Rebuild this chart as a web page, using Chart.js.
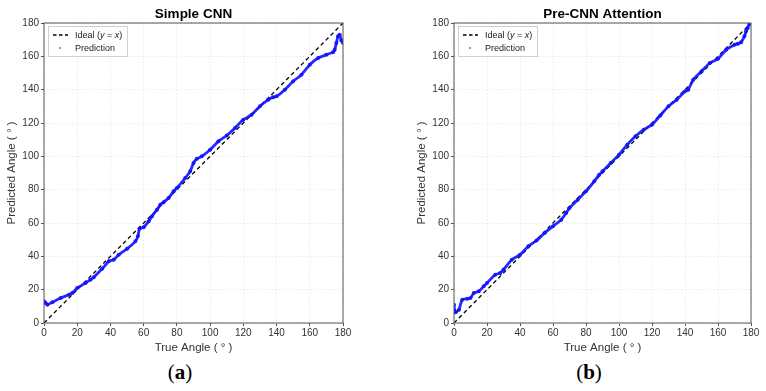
<!DOCTYPE html>
<html>
<head>
<meta charset="utf-8">
<script src="https://cdn.jsdelivr.net/npm/chart.js@4.4.0/dist/chart.umd.min.js"></script>
<style>
  body { margin: 0; background: #fff; width: 766px; height: 391px; position: relative; overflow: hidden; }
  .box { position: absolute; top: 0; height: 355px; }
  .tag { position: absolute; top: 360px; font-family: "Liberation Serif", serif; font-size: 21px; color: #000; transform: translateX(-50%); }
</style>
</head>
<body>
<div class="box" style="left:0;width:383px"><canvas id="chartA"></canvas></div>
<div class="box" style="left:410px;width:356px"><canvas id="chartB"></canvas></div>
<div class="tag" style="left:180px">(<b>a</b>)</div>
<div class="tag" style="left:589px">(<b>b</b>)</div>
<script>
// values (true angle -> predicted angle)
var simpleX = [0, 1, 2, 5, 10, 15, 17, 20, 25, 28, 30, 35, 39, 42, 45, 50, 55, 56.5, 57.5, 60, 63, 65, 68, 70, 72, 75, 78, 80, 85, 88, 90, 92, 95, 100, 105, 110, 115, 120, 125, 130, 135, 138, 140, 145, 150, 155, 160, 165, 170, 174, 175, 176, 177, 178, 179, 180];
var simpleY = [13, 12, 11, 12.5, 15, 17, 18, 21, 24, 26, 27.5, 32.5, 37, 38, 41, 44.5, 49, 52, 56.5, 57.5, 61, 64, 68, 71, 72.5, 75, 79, 81, 87, 91, 96, 98.5, 100, 104, 109, 112.5, 117, 122, 125, 130, 134, 135.5, 136, 140, 145, 149, 155, 159, 161, 162.5, 164, 168, 172, 173, 169.5, 168];

var attnX = [0, 0.5, 1, 3, 5, 8, 10, 12, 15, 18, 20, 25, 28, 30, 35, 40, 45, 50, 55, 60, 65, 68, 70, 75, 80, 85, 88, 90, 95, 100, 105, 110, 115, 120, 125, 130, 135, 140, 142, 145, 150, 155, 160, 165, 170, 172, 174, 176, 177, 178, 179];
var attnY = [11, 7, 6.5, 8, 14, 14.5, 15, 18, 19, 22, 24, 29, 30, 32, 38, 41, 46, 49.5, 54, 58, 62, 66, 69, 74, 79, 85, 89, 91, 96, 101, 107, 112, 116, 119, 124.5, 130, 134, 139, 140, 146, 151, 156, 158.5, 164, 167, 167.5, 168.5, 172, 175, 177, 179.5];

var ideal = [{ x: 0, y: 0 }, { x: 180, y: 180 }];
var ticks = [0, 20, 40, 60, 80, 100, 120, 140, 160, 180];
var FONT = "'Liberation Sans', Arial, sans-serif";

function pts(xs, ys) {
  return xs.map(function (x, i) { return { x: x, y: ys[i] }; });
}

// frame, title and legend drawn over the plot like the original
var decor = {
  id: "decor",
  afterDraw: function (chart, args, opts) {
    var ctx = chart.ctx, a = chart.chartArea;
    ctx.save();
    ctx.strokeStyle = "#555";
    ctx.lineWidth = 1;
    ctx.strokeRect(a.left, a.top, a.right - a.left, a.bottom - a.top);

    ctx.fillStyle = "#000";
    ctx.font = "bold 13.5px " + FONT;
    ctx.textAlign = "center";
    ctx.textBaseline = "middle";
    ctx.fillText(opts.title, (a.left + a.right) / 2, 14);

    var lx = a.left + 4, ly = a.top + 3;
    ctx.fillStyle = "rgba(255,255,255,0.85)";
    ctx.strokeStyle = "#d0d0d0";
    ctx.fillRect(lx, ly, 79, 30);
    ctx.strokeRect(lx + 0.5, ly + 0.5, 79, 30);

    ctx.strokeStyle = "#000";
    ctx.lineWidth = 1.3;
    ctx.setLineDash([3.5, 2.5]);
    ctx.beginPath();
    ctx.moveTo(lx + 5, ly + 9);
    ctx.lineTo(lx + 20, ly + 9);
    ctx.stroke();
    ctx.setLineDash([]);

    ctx.fillStyle = "rgba(40,40,255,0.8)";
    ctx.beginPath();
    ctx.arc(lx + 12, ly + 22, 0.9, 0, Math.PI * 2);
    ctx.fill();

    ctx.fillStyle = "#222";
    ctx.textAlign = "left";
    var tx = lx + 27;
    var parts = [["Ideal (", ""], ["y", "italic "], [" = ", ""], ["x", "italic "], [")", ""]];
    parts.forEach(function (p) {
      ctx.font = p[1] + "9px " + FONT;
      ctx.fillText(p[0], tx, ly + 9.5);
      tx += ctx.measureText(p[0]).width;
    });
    ctx.font = "9px " + FONT;
    ctx.fillText("Prediction", lx + 27, ly + 22.5);
    ctx.restore();
  }
};

function makeChart(id, title, xs, ys, rightPad) {
  var el = document.getElementById(id);
  return new Chart(el, {
    type: "scatter",
    data: {
      datasets: [
        {
          type: "line",
          label: "Ideal (y = x)",
          data: ideal,
          borderColor: "#000",
          borderWidth: 1.3,
          borderDash: [4, 3],
          pointRadius: 0,
          order: 2
        },
        {
          label: "Prediction",
          data: pts(xs, ys),
          showLine: true,
          borderColor: "rgba(15,15,255,0.9)",
          backgroundColor: "rgba(15,15,255,0.9)",
          borderWidth: 2.8,
          pointRadius: 0.6,
          tension: 0.2,
          order: 1
        }
      ]
    },
    options: {
      responsive: true,
      maintainAspectRatio: false,
      animation: false,
      layout: { padding: { top: 23, right: rightPad, left: 0, bottom: 0 } },
      plugins: {
        legend: { display: false },
        tooltip: { enabled: false },
        decor: { title: title }
      },
      scales: {
        x: {
          type: "linear",
          min: 0,
          max: 180,
          afterBuildTicks: function (s) { s.ticks = ticks.map(function (v) { return { value: v }; }); },
          afterFit: function (s) { s.height = 32; },
          ticks: { color: "#333", font: { family: FONT, size: 10 }, padding: 1, maxRotation: 0 },
          grid: { color: "#ebebeb", tickColor: "#555", tickLength: 3, tickBorderDash: [] },
          border: { display: false, dash: [1.5, 2] },
          title: { display: true, text: "True Angle ( ° )", color: "#333", font: { family: FONT, size: 11.5 }, padding: { top: 0, bottom: 0 } }
        },
        y: {
          min: 0,
          max: 180,
          afterBuildTicks: function (s) { s.ticks = ticks.map(function (v) { return { value: v }; }); },
          afterFit: function (s) { s.width = 44; },
          ticks: { color: "#333", font: { family: FONT, size: 10 }, padding: 2 },
          grid: { color: "#ebebeb", tickColor: "#555", tickLength: 3, tickBorderDash: [] },
          border: { display: false, dash: [1.5, 2] },
          title: { display: true, text: "Predicted Angle ( ° )", color: "#333", font: { family: FONT, size: 11.5 }, padding: { top: 5, bottom: 0 } }
        }
      }
    },
    plugins: [decor]
  });
}

makeChart("chartA", "Simple CNN", simpleX, simpleY, 40);
makeChart("chartB", "Pre-CNN Attention", attnX, attnY, 15);
</script>
</body>
</html>
